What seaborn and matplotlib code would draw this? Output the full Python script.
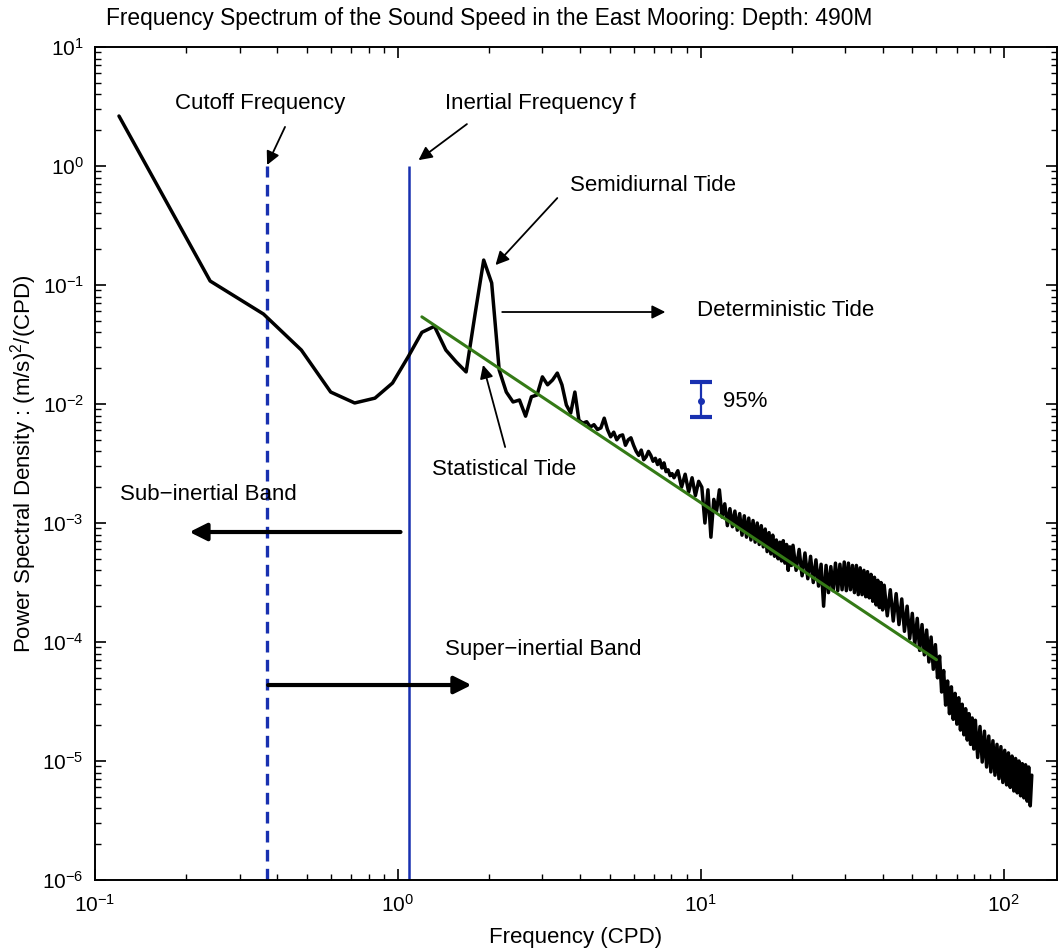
import matplotlib
matplotlib.use('Agg')
import matplotlib.pyplot as plt
import seaborn as sns
import numpy as np
import pandas as pd
from matplotlib.ticker import LogLocator, NullFormatter

# spectrum, low part, every 0.12 CPD bin ----------------------------------
psd_low = [2.63, 0.108, 0.057, 0.0284, 0.0126, 0.0102, 0.0112, 0.015,
           0.0248, 0.040, 0.045, 0.0284, 0.0225, 0.0186, 0.058, 0.162,
           0.104, 0.0193, 0.0126, 0.0104, 0.0108, 0.0079, 0.0115, 0.0119,
           0.0169, 0.0145, 0.0159, 0.0182, 0.0145, 0.0098, 0.0084, 0.0126,
           0.0073, 0.0069, 0.0071, 0.0064, 0.0067, 0.0061, 0.0063, 0.0076,
           0.0061, 0.0053, 0.0058, 0.0050, 0.0054, 0.0055, 0.0045, 0.0050,
           0.0052, 0.0045, 0.0040, 0.0037, 0.0041, 0.0034, 0.0036, 0.0040,
           0.0037, 0.0033, 0.0035, 0.0031, 0.0034, 0.0029, 0.0032, 0.0027,
           0.0028, 0.0025, 0.0026, 0.0024]
freq_low = [round(0.12 * k, 2) for k in range(1, len(psd_low) + 1)]

# spectrum, high part: read on a thinned set of the same bins
bins_high = (list(range(70, 167, 2)) + list(range(168, 333, 4))
             + list(range(336, 665, 8)) + list(range(672, 1033, 12)))
freq_high = [round(0.12 * k, 2) for k in bins_high]
psd_high = [
    # 8.4 - 19.9 CPD
    2.75e-3, 2.0e-3, 2.57e-3, 1.82e-3, 2.4e-3, 1.7e-3, 2.24e-3, 2.0e-3,
    1.0e-3, 1.9e-3, 7.6e-4, 1.58e-3, 1.26e-3, 1.9e-3, 1.12e-3, 1.45e-3,
    9.5e-4, 1.32e-3, 9.3e-4, 1.26e-3, 8.7e-4, 1.2e-3, 7.9e-4, 1.15e-3,
    7.6e-4, 1.1e-3, 7.2e-4, 1.05e-3, 6.9e-4, 1.0e-3, 6.6e-4, 9.5e-4,
    6.3e-4, 8.9e-4, 5.75e-4, 8.3e-4, 5.5e-4, 7.9e-4, 5.25e-4, 7.2e-4,
    5.0e-4, 6.9e-4, 4.8e-4, 7.1e-4, 4.6e-4, 6.6e-4, 4.0e-4, 6.3e-4,
    4.4e-4,
    # 20.2 - 39.8 CPD
    6.5e-4, 4.0e-4, 6.0e-4, 3.6e-4, 5.6e-4, 3.4e-4, 5.25e-4, 3.16e-4,
    4.9e-4, 2.95e-4, 4.5e-4, 2.0e-4, 4.4e-4, 2.6e-4, 4.3e-4, 2.7e-4,
    4.6e-4, 2.7e-4, 4.5e-4, 2.75e-4, 4.7e-4, 2.7e-4, 4.6e-4, 2.75e-4,
    4.4e-4, 2.6e-4, 4.4e-4, 2.5e-4, 4.2e-4, 2.5e-4, 4.0e-4, 2.4e-4,
    3.9e-4, 2.35e-4, 3.7e-4, 2.2e-4, 3.5e-4, 2.05e-4, 3.3e-4, 1.95e-4,
    3.16e-4, 1.86e-4,
    # 40.3 - 79.7 CPD
    3.0e-4, 1.66e-4, 2.75e-4, 1.5e-4, 2.55e-4, 1.4e-4, 2.3e-4, 1.23e-4,
    2.0e-4, 1.07e-4, 1.74e-4, 9.5e-5, 1.58e-4, 8.5e-5, 1.4e-4, 7.8e-5,
    1.26e-4, 6.8e-5, 1.1e-4, 5.9e-5, 9.5e-5, 5.0e-5, 7.6e-5, 3.8e-5,
    5.75e-5, 2.95e-5, 4.7e-5, 2.5e-5, 4.2e-5, 2.24e-5, 3.7e-5, 2.04e-5,
    3.4e-5, 1.82e-5, 3.0e-5, 1.66e-5, 2.75e-5, 1.5e-5, 2.5e-5, 1.38e-5,
    2.3e-5, 1.26e-5,
    # 80.6 - 123.8 CPD
    2.2e-5, 1.07e-5, 1.95e-5, 9.8e-6, 1.78e-5, 8.9e-6, 1.62e-5, 8.1e-6,
    1.48e-5, 7.6e-6, 1.38e-5, 7.1e-6, 1.32e-5, 6.6e-6, 1.23e-5, 6.3e-6,
    1.17e-5, 6.0e-6, 1.1e-5, 5.6e-6, 1.05e-5, 5.4e-6, 1.0e-5, 5.1e-6,
    9.5e-6, 4.9e-6, 9.3e-6, 4.6e-6, 8.9e-6, 4.2e-6, 7.6e-6]

# power-law fit (green line)
fit_freq = [1.2, 60.0]
fit_psd = [0.054, 7.1e-5]

cutoff_freq = 0.37
inertial_freq = 1.09

# 95% confidence bar
ci_freq = 10.0
ci_center = 0.0106
ci_low = 0.0078
ci_high = 0.0153

df = pd.DataFrame({'freq': freq_low + freq_high, 'psd': psd_low + psd_high})
df_fit = pd.DataFrame({'freq': fit_freq, 'psd': fit_psd})

sns.set_style('ticks')
plt.rcParams['font.family'] = ['Liberation Sans', 'DejaVu Sans']
plt.rcParams['mathtext.fontset'] = 'custom'
plt.rcParams['mathtext.rm'] = 'Liberation Sans'
plt.rcParams['mathtext.it'] = 'Liberation Sans:italic'
plt.rcParams['mathtext.bf'] = 'Liberation Sans:bold'
for key in ['text.color', 'axes.labelcolor', 'xtick.color', 'ytick.color']:
    plt.rcParams[key] = 'black'

W, H = 1061, 952
fig = plt.figure(figsize=(W / 100, H / 100), dpi=100)
ax = fig.add_axes([95 / W, 1 - 880 / H, (1057 - 95) / W, (880 - 47) / H])

blue = '#1830b0'

ax.vlines(cutoff_freq, 1e-6, 1, colors=blue, lw=2.4, linestyles=(0, (3.5, 2.2)), zorder=2)
ax.vlines(inertial_freq, 1e-6, 1, colors=blue, lw=1.8, zorder=2)

sns.lineplot(data=df, x='freq', y='psd', color='black', lw=2.5,
             estimator=None, ax=ax, zorder=3)
sns.lineplot(data=df_fit, x='freq', y='psd', color='#347a16', lw=2.2,
             estimator=None, ax=ax, zorder=4)

ax.errorbar(ci_freq, ci_center,
            yerr=[[ci_center - ci_low], [ci_high - ci_center]],
            fmt='o', ms=4, color=blue, capsize=8, capthick=3, elinewidth=1.6,
            zorder=5)

ax.set_xscale('log')
ax.set_yscale('log')
ax.set_xlim(0.1, 150)
ax.set_ylim(1e-6, 10)

ax.xaxis.set_major_locator(LogLocator(base=10, numticks=10))
ax.yaxis.set_major_locator(LogLocator(base=10, numticks=10))
ax.xaxis.set_minor_locator(LogLocator(base=10, subs=np.arange(2, 10), numticks=100))
ax.yaxis.set_minor_locator(LogLocator(base=10, subs=np.arange(2, 10), numticks=100))
ax.xaxis.set_minor_formatter(NullFormatter())
ax.yaxis.set_minor_formatter(NullFormatter())

ax.tick_params(which='both', direction='in', top=True, right=True, colors='black')
ax.tick_params(which='major', length=8, width=1.2, labelsize=15)
ax.tick_params(which='minor', length=4, width=1.0)
ax.tick_params(axis='x', pad=10)
ax.tick_params(axis='y', pad=8)
for sp in ax.spines.values():
    sp.set_linewidth(1.4)
    sp.set_color('black')

ax.set_xlabel('Frequency (CPD)', fontsize=16, labelpad=8)
ax.set_ylabel('Power Spectral Density : (m/s)$^2$/(CPD)', fontsize=16)
ax.yaxis.set_label_coords(-56 / (1057 - 95), 0.5)

fig.text(489 / W, 1 - 18 / H,
         'Frequency Spectrum of the Sound Speed in the East Mooring: Depth: 490M',
         ha='center', va='center', fontsize=16.4)

# labels
txt = dict(fontsize=16, ha='left', va='center')
ax.text(0.184, 3.38, 'Cutoff Frequency', **txt)
ax.text(1.43, 3.38, 'Inertial Frequency f', **txt)
ax.text(3.71, 0.68, 'Semidiurnal Tide', **txt)
ax.text(9.75, 0.0605, 'Deterministic Tide', **txt)
ax.text(11.8, 0.0104, '95%', **txt)
ax.text(1.30, 2.8e-3, 'Statistical Tide', **txt)
ax.text(0.121, 1.72e-3, 'Sub\u2212inertial Band', **txt)
ax.text(1.43, 8.6e-5, 'Super\u2212inertial Band', **txt)

# arrows
thin = dict(arrowstyle='-|>', color='black', lw=1.3, mutation_scale=20,
            shrinkA=0, shrinkB=0)
thick = dict(arrowstyle='-|>', color='black', lw=3.0, mutation_scale=26,
             shrinkA=0, shrinkB=0)
ax.annotate('', xy=(0.370, 1.02), xytext=(0.424, 2.13), arrowprops=thin)
ax.annotate('', xy=(1.17, 1.12), xytext=(1.69, 2.25), arrowprops=thin)
ax.annotate('', xy=(2.10, 0.147), xytext=(3.36, 0.538), arrowprops=thin)
ax.annotate('', xy=(7.64, 0.0593), xytext=(2.21, 0.0593), arrowprops=thin)
ax.annotate('', xy=(1.91, 0.0213), xytext=(2.26, 4.35e-3), arrowprops=thin)
ax.annotate('', xy=(0.205, 8.4e-4), xytext=(1.02, 8.4e-4), arrowprops=thick)
ax.annotate('', xy=(1.75, 4.35e-5), xytext=(0.373, 4.35e-5), arrowprops=thick)

fig.savefig('out.png', dpi=100)
